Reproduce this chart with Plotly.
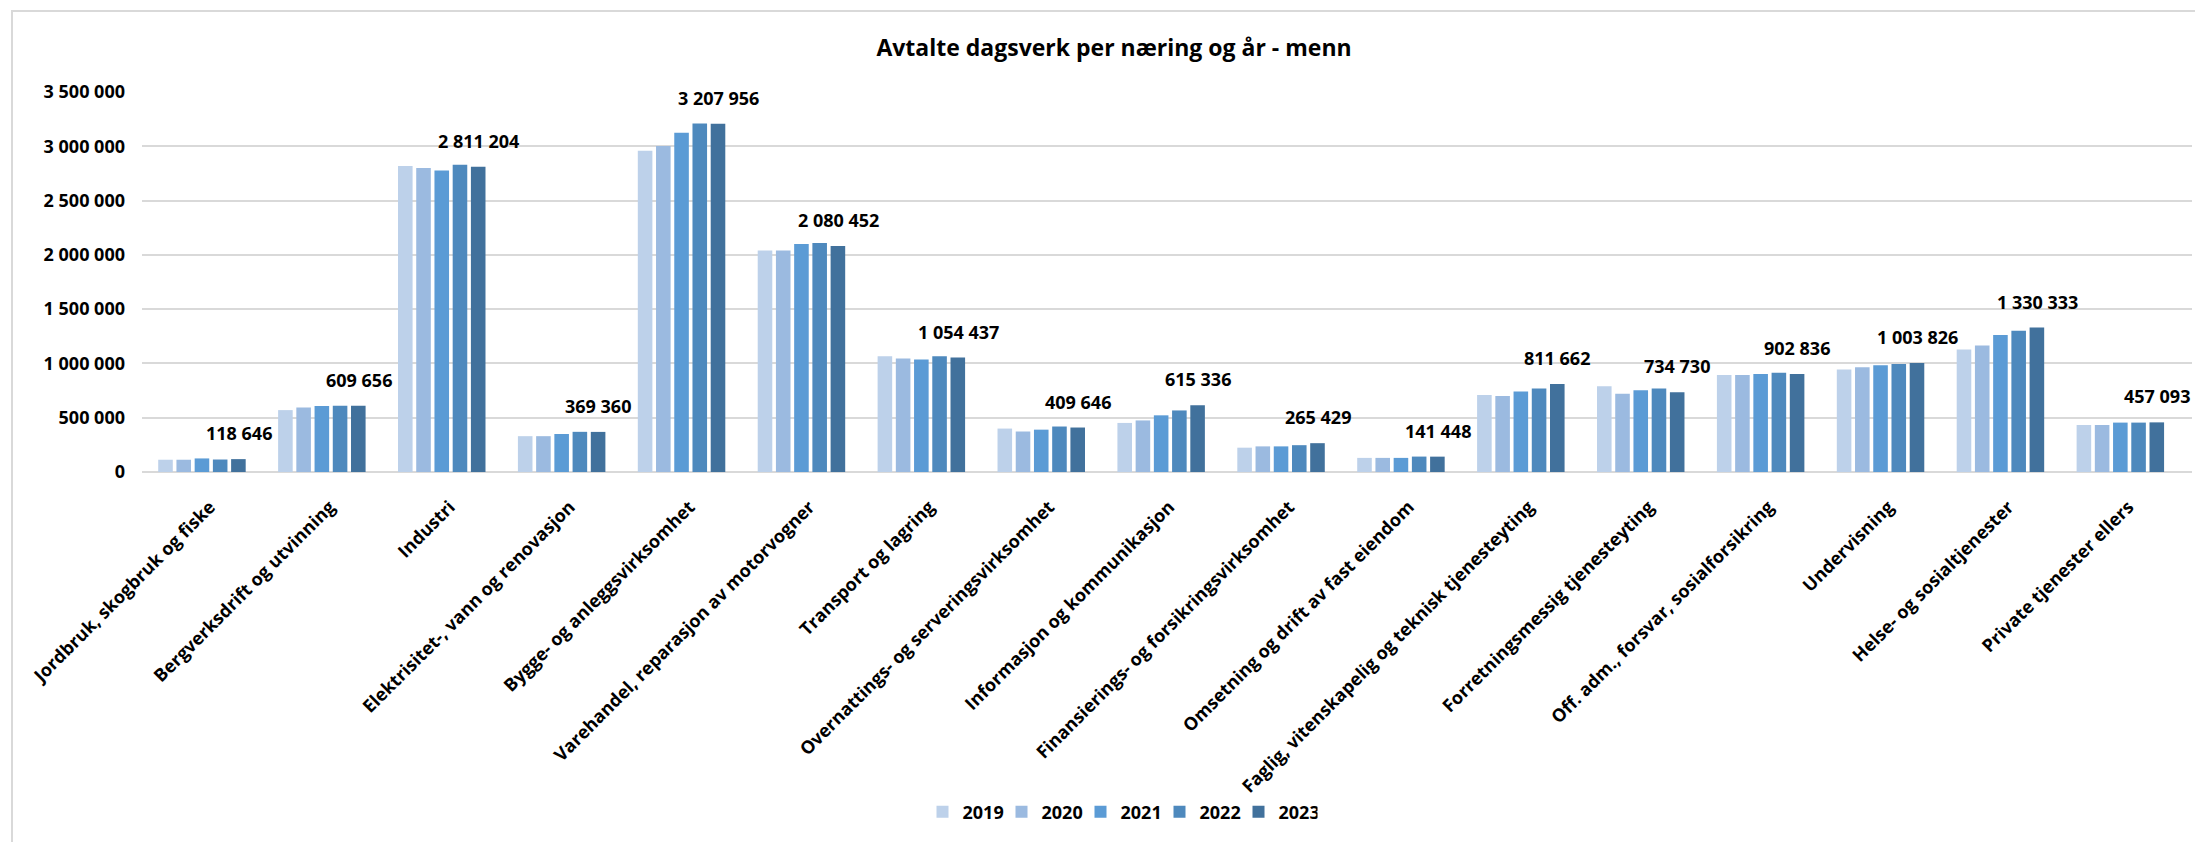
import plotly.graph_objects as go

categories = [
    "Jordbruk, skogbruk og fiske",
    "Bergverksdrift og utvinning",
    "Industri",
    "Elektrisitet-, vann og renovasjon",
    "Bygge- og anleggsvirksomhet",
    "Varehandel, reparasjon av motorvogner",
    "Transport og lagring",
    "Overnattings- og serveringsvirksomhet",
    "Informasjon og kommunikasjon",
    "Finansierings- og forsikringsvirksomhet",
    "Omsetning og drift av fast eiendom",
    "Faglig, vitenskapelig og teknisk tjenesteyting",
    "Forretningsmessig tjenesteyting",
    "Off. adm., forsvar, sosialforsikring",
    "Undervisning",
    "Helse- og sosialtjenester",
    "Private tjenester ellers",
]

years = ["2019", "2020", "2021", "2022", "2023"]

v2019 = [113000, 570000, 2819000, 330000, 2960000, 2040000, 1065000, 400000, 452000, 224000, 130000, 710000, 790000, 893000, 945000, 1128000, 433000]
v2020 = [113000, 595000, 2800000, 330000, 3003000, 2040000, 1045000, 373000, 475000, 236000, 130000, 700000, 720000, 893000, 964000, 1166000, 433000]
v2021 = [125000, 608000, 2778000, 350000, 3125000, 2100000, 1036000, 390000, 522000, 236000, 130000, 742000, 752000, 902000, 984000, 1262000, 455000]
v2022 = [115000, 610000, 2829000, 370000, 3210000, 2110000, 1065000, 419000, 567000, 247000, 142000, 770000, 770000, 913000, 995000, 1302000, 455000]
v2023 = [118646, 609656, 2811204, 369360, 3207956, 2080452, 1054437, 409646, 615336, 265429, 141448, 811662, 734730, 902836, 1003826, 1330333, 457093]

series = [v2019, v2020, v2021, v2022, v2023]
colors = ["#BDD1EA", "#9BBAE0", "#5B9BD5", "#4E89BD", "#41719C"]

y_ticks = [0, 500000, 1000000, 1500000, 2000000, 2500000, 3000000, 3500000]

FONT = "Open Sans"
# the page body has an 8px default margin; work in screenshot pixels and shift
OFF = 8
W, H = 2203 - OFF, 842 - OFF
ML, MT = 142 - OFF, 92 - OFF
MR = W - (2192 - OFF)
MB = H - (472 - OFF)
plot_w = W - ML - MR
plot_h = H - MT - MB
BARGAP = 0.24
BARGROUPGAP = 0.2

fig = go.Figure()
for yr, vals, col in zip(years, series, colors):
    fig.add_trace(go.Bar(
        name=yr, x=categories, y=vals,
        marker=dict(color=col, line=dict(width=0)),
    ))

# data labels above the 2023 bar in each group
cat_px = plot_w / len(categories)
slot = cat_px * (1 - BARGAP) / len(years)
for c, v in zip(categories, v2023):
    fig.add_annotation(
        x=c, y=v, xref="x", yref="y",
        text=f"{v:,}".replace(",", " "),
        showarrow=False, xanchor="center", yanchor="bottom",
        xshift=2 * slot, yshift=12,
        font=dict(family=FONT, size=18, color="#000000", weight="bold"),
    )

def px_x(p):
    return (p - OFF - ML) / plot_w

def px_y(p):
    return (H - MB - (p - OFF)) / plot_h

fig.add_shape(type="rect", xref="paper", yref="paper",
              x0=px_x(12), x1=px_x(2230), y0=px_y(11), y1=px_y(860),
              line=dict(color="#D9D9D9", width=2), fillcolor="rgba(0,0,0,0)",
              layer="below")

fig.update_layout(
    width=W, height=H,
    margin=dict(l=ML, r=MR, t=MT, b=MB, autoexpand=False),
    paper_bgcolor="white", plot_bgcolor="white",
    barmode="group", bargap=BARGAP, bargroupgap=BARGROUPGAP,
    separators=", ",
    title=dict(text="Avtalte dagsverk per næring og år - menn",
               x=px_x(1114), xanchor="center", xref="paper",
               y=1 - (48 - OFF) / H, yanchor="middle", yref="container",
               font=dict(family=FONT, size=23, color="#000000", weight="bold")),
    legend=dict(orientation="h", x=px_x(1120), xanchor="center", xref="paper",
                y=1 - (812 - OFF) / H, yanchor="middle", yref="container",
                font=dict(family=FONT, size=18, color="#000000", weight="bold"),
                itemwidth=30, entrywidth=34, entrywidthmode="pixels",
                traceorder="normal", tracegroupgap=0),
    showlegend=True,
)

fig.update_yaxes(range=[0, 3500000], tickvals=y_ticks, tickformat=",d",
                 showgrid=True, gridcolor="#D9D9D9", gridwidth=2,
                 zeroline=True, zerolinecolor="#D9D9D9", zerolinewidth=2,
                 showline=False, ticks="", ticklabelstandoff=16,
                 tickfont=dict(family=FONT, size=18, color="#000000", weight="bold"))

fig.update_xaxes(tickangle=-45, showgrid=False, showline=False, ticks="",
                 ticklabelstandoff=20, ticklabelshift=8,
                 tickfont=dict(family=FONT, size=18, color="#000000", weight="bold"))

fig.write_html("out.html")
